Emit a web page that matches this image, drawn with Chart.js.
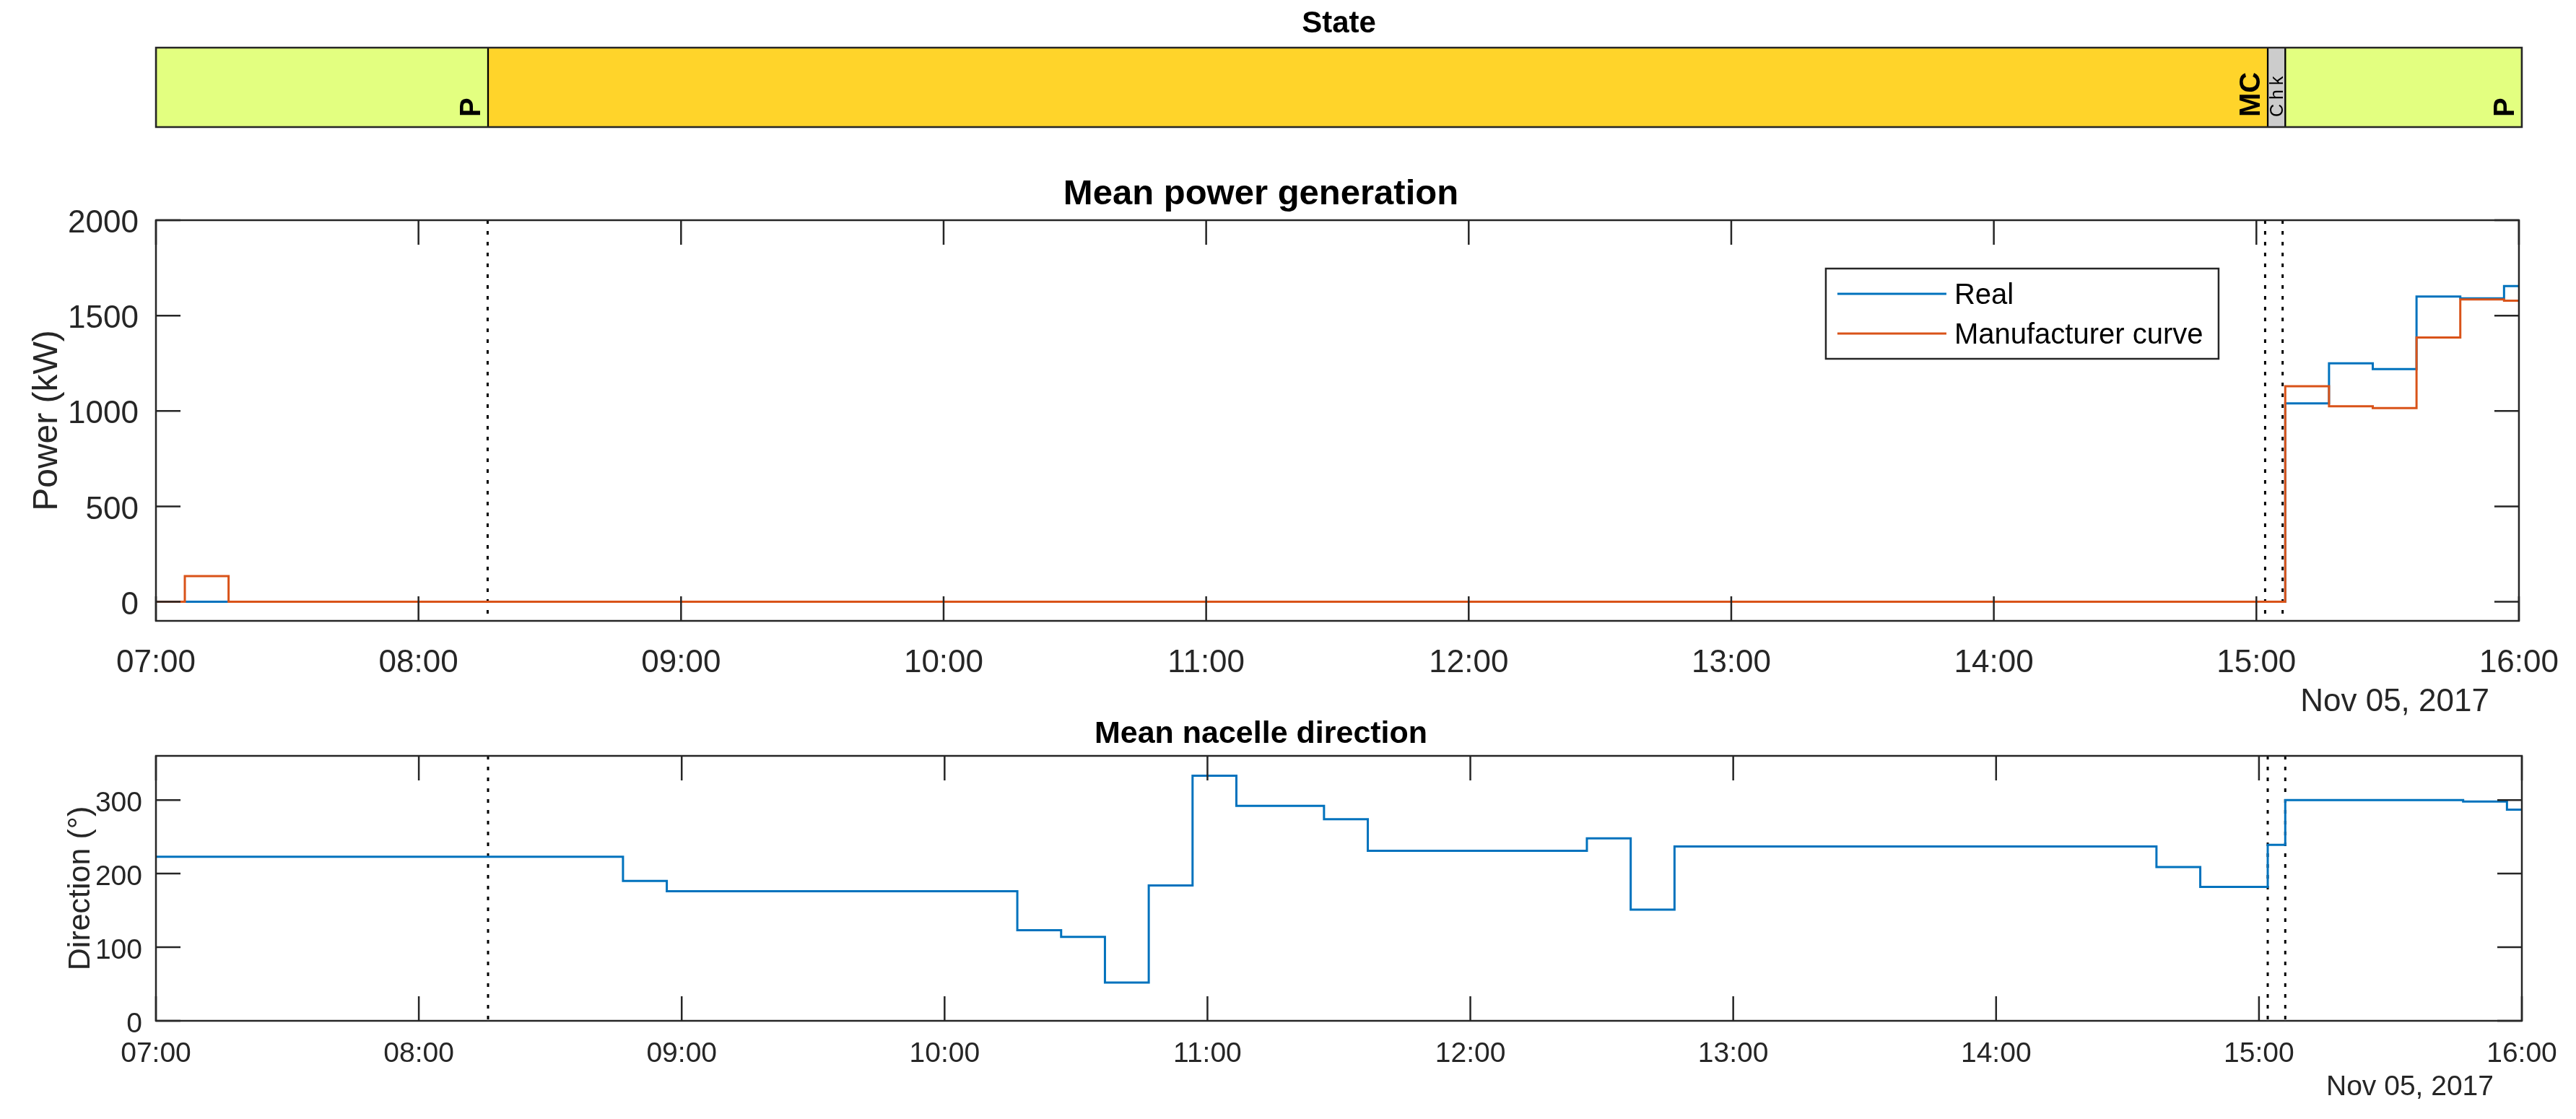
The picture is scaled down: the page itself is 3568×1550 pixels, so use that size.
<!DOCTYPE html>
<html>
<head>
<meta charset="utf-8">
<title>State, mean power and nacelle direction</title>
<script src="https://cdn.jsdelivr.net/npm/chart.js@4.4.1/dist/chart.umd.min.js"></script>
<style>
  html, body { margin: 0; padding: 0; background: #fff; }
  #page { position: relative; width: 3568px; height: 1550px; }
  canvas { position: absolute; left: 0; }
</style>
</head>
<body>
<div id="page">
  <canvas id="stateChart" width="3568" height="210" style="top:0px"></canvas>
  <canvas id="powerChart" width="3568" height="790" style="top:210px"></canvas>
  <canvas id="dirChart" width="3568" height="590" style="top:960px"></canvas>
</div>
<script>
// values, times of day on Nov 05 2017
const dayLabel = "Nov 05, 2017";

const stateNames  = ["P", "MC", "Chk", "P"];
const stateStarts = ["07:00", "08:15:48", "15:02", "15:06"];
const stateEnds   = ["08:15:48", "15:02", "15:06", "16:00"];

// stairs: each value holds from its time until the next time
const powerTimes = ["07:00", "07:06:36", "07:16:36", "15:06:36", "15:16:36", "15:26:36", "15:36:36", "15:46:36", "15:56:36", "16:00"];
const powerReal  = [0, 0, 0, 1040, 1250, 1220, 1600, 1590, 1655, 1655];
const powerCurve = [0, 135, 0, 1130, 1025, 1015, 1385, 1585, 1578, 1578];

const dirTimes = ["07:00", "08:46:36", "08:56:36", "10:16:36", "10:26:36", "10:36:36", "10:46:36", "10:56:36",
                  "11:06:36", "11:26:36", "11:36:36", "12:26:36", "12:36:36", "12:46:36", "14:36:36", "14:46:36",
                  "15:02", "15:06", "15:46:36", "15:56:36", "16:00"];
const dirValues = [223, 190, 176, 123, 114, 52, 184, 333, 292, 274, 231, 248, 151, 237, 209, 182, 239, 300, 298, 287, 287];

// tick values
const powerTicks = [0, 500, 1000, 1500, 2000];
const dirTicks = [0, 100, 200, 300];

// styles
const family = "'Liberation Sans', Arial, Helvetica, sans-serif";
const axisColor = "#262626";
const blue = "#0072bd";
const orange = "#d95319";
const stateColors = { P: "#e3ff80", MC: "#ffd42a", Chk: "#cccccc" };

Chart.defaults.font.family = family;
Chart.defaults.color = axisColor;

function toMin(t) {
  const [h, m, s = 0] = t.split(":").map(Number);
  return h * 60 + m + s / 60;
}
function hhmm(v) {
  const h = Math.floor(v / 60), m = Math.round(v % 60);
  return String(h).padStart(2, "0") + ":" + String(m).padStart(2, "0");
}
function stairs(times, values) {
  return times.map((t, i) => ({ x: toMin(t), y: values[i] }));
}

const xMin = toMin("07:00"), xMax = toMin("16:00");
const changes = stateStarts.slice(1).map(toMin);

// matlab style box: inward ticks on all sides, dotted state changes, date under the axis
const matlabBox = {
  id: "matlabBox",
  beforeDatasetsDraw(chart, args, opts) {
    if (!opts.marks) return;
    const { ctx, chartArea: a, scales: { x } } = chart;
    ctx.save();
    ctx.strokeStyle = "#000";
    ctx.lineWidth = 3;
    ctx.setLineDash([5, 10]);
    changes.forEach(t => {
      const px = x.getPixelForValue(t);
      ctx.beginPath();
      ctx.moveTo(px, a.top);
      ctx.lineTo(px, a.bottom);
      ctx.stroke();
    });
    ctx.restore();
  },
  afterDatasetsDraw(chart, args, opts) {
    const { ctx, chartArea: a, scales } = chart;
    ctx.save();
    ctx.strokeStyle = axisColor;
    ctx.lineWidth = 2.5;
    if (opts.ticks) {
      const len = 34;
      ctx.beginPath();
      scales.x.ticks.forEach(t => {
        const px = scales.x.getPixelForValue(t.value);
        ctx.moveTo(px, a.bottom); ctx.lineTo(px, a.bottom - len);
        ctx.moveTo(px, a.top); ctx.lineTo(px, a.top + len);
      });
      scales.y.ticks.forEach(t => {
        const py = scales.y.getPixelForValue(t.value);
        ctx.moveTo(a.left, py); ctx.lineTo(a.left + len, py);
        ctx.moveTo(a.right, py); ctx.lineTo(a.right - len, py);
      });
      ctx.stroke();
    }
    ctx.strokeRect(a.left, a.top, a.right - a.left, a.bottom - a.top);
    if (opts.date) {
      ctx.fillStyle = axisColor;
      ctx.font = opts.date.size + "px " + family;
      ctx.textAlign = "right";
      ctx.textBaseline = "alphabetic";
      ctx.fillText(dayLabel, a.right - opts.date.dx, a.bottom + opts.date.dy);
    }
    ctx.restore();
  }
};

// boxed legend like the original
const boxLegend = {
  id: "boxLegend",
  afterDraw(chart, args, o) {
    if (!o.show) return;
    const { ctx, chartArea: a } = chart;
    const x0 = a.right - o.right - o.width, y0 = a.top + o.top;
    ctx.save();
    ctx.fillStyle = "#fff";
    ctx.fillRect(x0, y0, o.width, o.height);
    ctx.strokeStyle = axisColor;
    ctx.lineWidth = 2.5;
    ctx.strokeRect(x0, y0, o.width, o.height);
    ctx.font = "40px " + family;
    ctx.textBaseline = "alphabetic";
    chart.data.datasets.forEach((ds, i) => {
      const y = y0 + 35 + i * 55;
      ctx.strokeStyle = ds.borderColor;
      ctx.lineWidth = ds.borderWidth;
      ctx.beginPath();
      ctx.moveTo(x0 + 16, y);
      ctx.lineTo(x0 + 167, y);
      ctx.stroke();
      ctx.fillStyle = "#000";
      ctx.fillText(ds.label, x0 + 178, y + 14);
    });
    ctx.restore();
  }
};

// rotated state names at the end of each segment
const stateLabels = {
  id: "stateLabels",
  afterDatasetsDraw(chart) {
    const { ctx, chartArea: a } = chart;
    chart.data.datasets.forEach((ds, i) => {
      const bar = chart.getDatasetMeta(i).data[0];
      const start = Math.min(bar.x, bar.base), end = Math.max(bar.x, bar.base);
      const small = ds.label === "Chk";
      const size = small ? 25 : 40;
      ctx.save();
      ctx.font = (small ? "normal " : "bold ") + size + "px " + family;
      ctx.letterSpacing = small ? "6px" : "0px";
      const bx = Math.max(end - 11, (start + end) / 2 + 0.36 * size);
      ctx.translate(bx, a.bottom - 14);
      ctx.rotate(-Math.PI / 2);
      ctx.fillStyle = "#000";
      ctx.textAlign = "left";
      ctx.textBaseline = "alphabetic";
      ctx.fillText(ds.label, 0, 0);
      ctx.restore();
    });
  }
};

const common = { responsive: false, animation: false, devicePixelRatio: 1, events: [] };

function timeAxis(size, pad, height) {
  return {
    type: "linear", min: xMin, max: xMax,
    grid: { display: false }, border: { display: false },
    ticks: { stepSize: 60, callback: v => hhmm(v), font: { size: size }, color: axisColor,
             padding: pad, maxRotation: 0, autoSkip: false },
    afterFit: s => { s.height = height; }
  };
}

function valueAxis(min, max, values, size, pad, title, titleSize, titlePad) {
  return {
    min: min, max: max,
    grid: { display: false }, border: { display: false },
    ticks: { callback: v => String(v), font: { size: size }, color: axisColor, padding: pad, labelOffset: 5 },
    afterBuildTicks: s => { s.ticks = values.map(v => ({ value: v })); },
    title: { display: true, text: title, color: axisColor, font: { size: titleSize }, padding: { top: titlePad, bottom: 0 } },
    afterFit: s => { s.width = 216; }
  };
}

// state bar
new Chart(document.getElementById("stateChart"), {
  type: "bar",
  data: {
    labels: ["State"],
    datasets: stateNames.map((name, i) => ({
      label: name,
      data: [[toMin(stateStarts[i]), toMin(stateEnds[i])]],
      backgroundColor: stateColors[name],
      borderColor: "#000",
      borderWidth: { left: 1.5, right: 1.5, top: 0, bottom: 0 },
      borderSkipped: false,
      grouped: false,
      barPercentage: 1,
      categoryPercentage: 1
    }))
  },
  options: {
    ...common,
    indexAxis: "y",
    layout: { padding: { left: 216, right: 75, top: 0, bottom: 34 } },
    scales: {
      x: { type: "linear", min: xMin, max: xMax, display: false },
      y: { display: false }
    },
    plugins: {
      legend: { display: false },
      tooltip: { enabled: false },
      title: { display: true, text: "State", color: "#000",
               font: { size: 42, weight: "bold" }, padding: { top: 8.7, bottom: 6.9 } },
      matlabBox: { ticks: false, marks: false }
    }
  },
  plugins: [matlabBox, stateLabels]
});

// mean power
new Chart(document.getElementById("powerChart"), {
  type: "line",
  data: {
    datasets: [
      { label: "Real", data: stairs(powerTimes, powerReal), borderColor: blue, borderWidth: 3, order: 1 },
      { label: "Manufacturer curve", data: stairs(powerTimes, powerCurve), borderColor: orange, borderWidth: 3, order: 0 }
    ]
  },
  options: {
    ...common,
    datasets: { line: { stepped: true, pointRadius: 0, fill: false, tension: 0 } },
    layout: { padding: { left: 0, right: 75, top: 0, bottom: 0 } },
    scales: {
      x: timeAxis(44, 24, 140),
      y: valueAxis(-100, 2000, powerTicks, 44, 16, "Power (kW)", 48, 37)
    },
    plugins: {
      legend: { display: false },
      tooltip: { enabled: false },
      title: { display: true, text: "Mean power generation", color: "#000",
               font: { size: 49, weight: "bold" }, padding: { top: 29.6, bottom: 6.6 } },
      matlabBox: { ticks: true, marks: true, date: { size: 44, dx: 41, dy: 125 } },
      boxLegend: { show: true, right: 416, top: 67, width: 544, height: 125 }
    }
  },
  plugins: [matlabBox, boxLegend]
});

// mean nacelle direction
new Chart(document.getElementById("dirChart"), {
  type: "line",
  data: {
    datasets: [
      { label: "Direction", data: stairs(dirTimes, dirValues), borderColor: blue, borderWidth: 3 }
    ]
  },
  options: {
    ...common,
    datasets: { line: { stepped: true, pointRadius: 0, fill: false, tension: 0 } },
    layout: { padding: { left: 0, right: 75, top: 0, bottom: 0 } },
    scales: {
      x: timeAxis(39, 15, 136),
      y: valueAxis(0, 360, dirTicks, 39, 11, "Direction (°)", 43, 86)
    },
    plugins: {
      legend: { display: false },
      tooltip: { enabled: false },
      title: { display: true, text: "Mean nacelle direction", color: "#000",
               font: { size: 43, weight: "bold" }, padding: { top: 31.2, bottom: 4.2 } },
      matlabBox: { ticks: true, marks: true, date: { size: 39, dx: 39, dy: 103 } }
    }
  },
  plugins: [matlabBox]
});
</script>
</body>
</html>
